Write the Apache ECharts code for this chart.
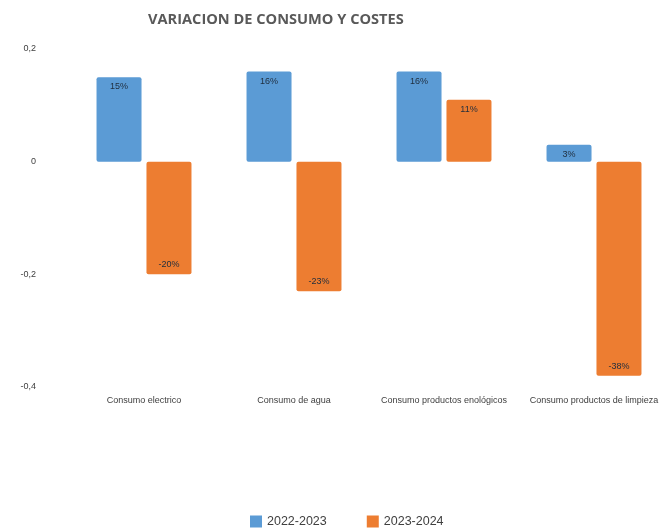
<!DOCTYPE html>
<html>
<head>
<meta charset="utf-8">
<script src="https://cdn.jsdelivr.net/npm/echarts@6/dist/echarts.min.js"></script>
<style>
  html, body { margin: 0; padding: 0; background: #fff; }
  #chart { width: 669px; height: 530px; }
</style>
</head>
<body>
<div id="chart"></div>
<script>
  // datos
  var categories = ['Consumo electrico', 'Consumo de agua', 'Consumo productos enológicos', 'Consumo productos de limpieza']
  var serie2223 = [0.15, 0.16, 0.16, 0.03]
  var serie2324 = [-0.20, -0.23, 0.11, -0.38]
  var seriesNames = ['2022-2023', '2023-2024']

  var chart = echarts.init(document.getElementById('chart'))

  function toItems(values) {
    return values.map(function (v) {
      return { value: v, label: { position: v < 0 ? 'insideBottom' : 'insideTop' } }
    })
  }

  var labelStyle = {
    show: true,
    distance: 5,
    fontSize: 9,
    color: '#1f2d3d',
    fontFamily: 'Liberation Sans',
    formatter: function (p) {
      return Math.round(p.value * 100) + '%'
    }
  }

  chart.setOption({
    backgroundColor: '#ffffff',
    textStyle: { fontFamily: 'Liberation Sans' },
    title: {
      text: 'VARIACION DE CONSUMO Y COSTES',
      left: 143,
      top: 7,
      textStyle: {
        fontFamily: 'Open Sans',
        fontWeight: 'bold',
        fontSize: 14.6,
        color: '#595959'
      }
    },
    legend: {
      data: seriesNames,
      bottom: 2,
      left: 250,
      padding: 0,
      icon: 'rect',
      itemWidth: 12,
      itemHeight: 12,
      itemGap: 40,
      textStyle: { fontSize: 12.5, color: '#404040' }
    },
    grid: {
      left: 69,
      right: 0,
      top: 49,
      bottom: 143
    },
    xAxis: {
      type: 'category',
      data: categories,
      position: 'bottom',
      axisLine: { show: false, onZero: false },
      axisTick: { show: false },
      axisLabel: { interval: 0, margin: 9, fontSize: 9, color: '#404040' }
    },
    yAxis: {
      type: 'value',
      min: -0.4,
      max: 0.2,
      interval: 0.2,
      axisLine: { show: false },
      axisTick: { show: false },
      splitLine: { show: false },
      axisLabel: {
        margin: 33,
        fontSize: 9,
        color: '#404040',
        formatter: function (v) {
          var r = Math.round(v * 10) / 10
          return String(r).replace('.', ',')
        }
      }
    },
    series: [{
      name: seriesNames[0],
      type: 'bar',
      barWidth: '30%',
      barGap: '11%',
      itemStyle: { color: '#5b9bd5', borderRadius: 2 },
      label: labelStyle,
      data: toItems(serie2223)
    }, {
      name: seriesNames[1],
      type: 'bar',
      barWidth: '30%',
      itemStyle: { color: '#ed7d31', borderRadius: 2 },
      label: labelStyle,
      data: toItems(serie2324)
    }]
  })
</script>
</body>
</html>
